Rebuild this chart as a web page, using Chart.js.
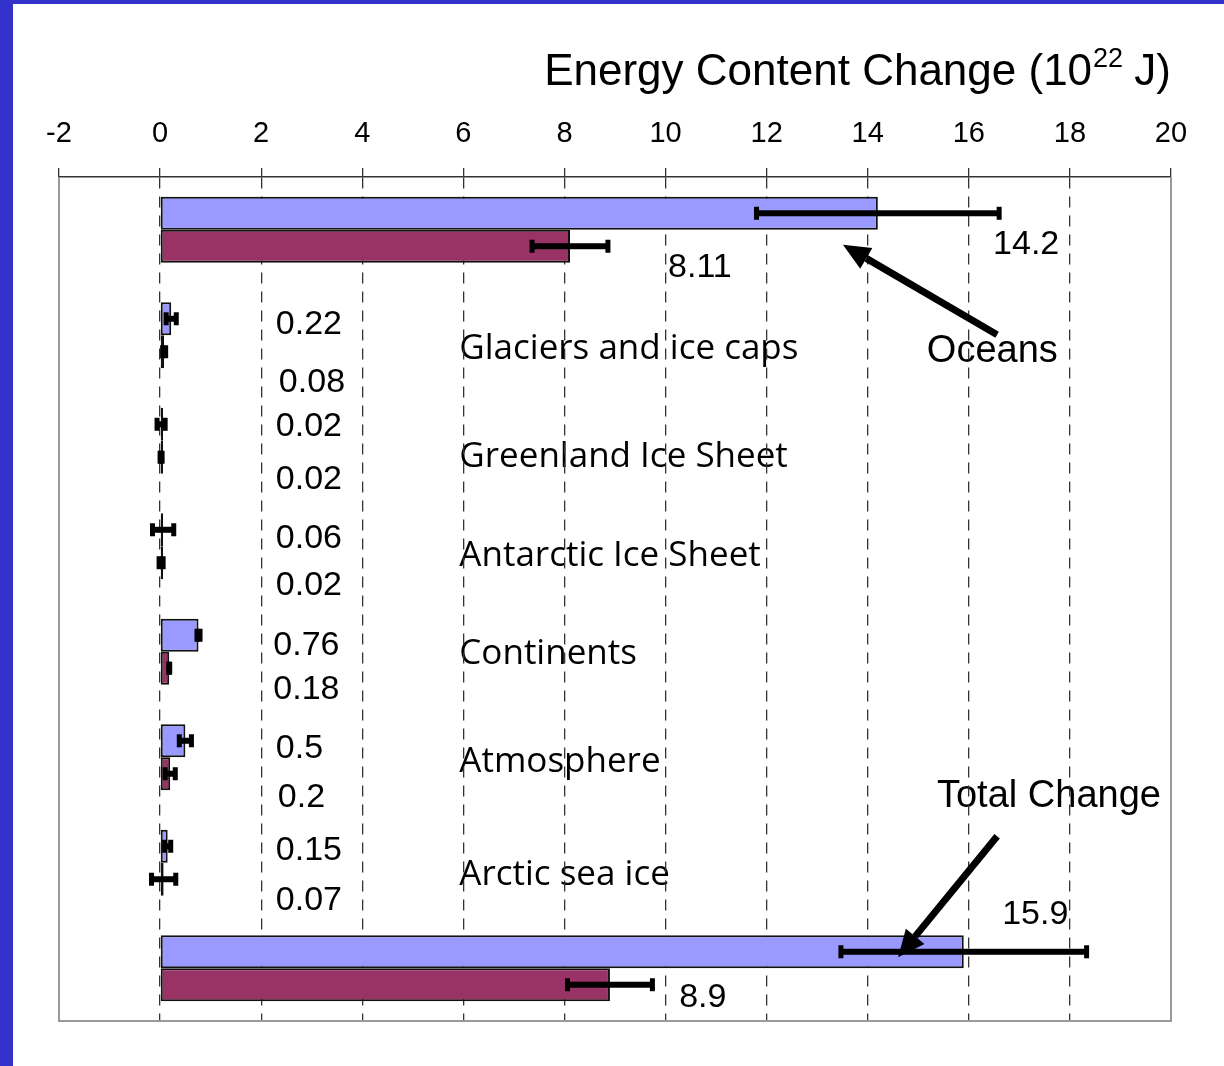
<!DOCTYPE html>
<html>
<head>
<meta charset="utf-8">
<script src="https://cdn.jsdelivr.net/npm/chart.js@4.4.1/dist/chart.umd.min.js"></script>
<style>
  html, body { margin: 0; padding: 0; background: #3333cc; }
  #wrap { position: absolute; left: 13px; top: 4px; width: 1211px; height: 1062px; background: #fff; }
  canvas { display: block; }
</style>
</head>
<body>
<div id="wrap"><canvas id="chart" width="1211" height="1062"></canvas></div>
<script>
// energy content change, 10^22 J
const categories = ["Oceans", "Glaciers and ice caps", "Greenland Ice Sheet", "Antarctic Ice Sheet",
                    "Continents", "Atmosphere", "Arctic sea ice", "Total Change"];
const period1 = [14.2, 0.22, 0.02, 0.06, 0.76, 0.5, 0.15, 15.9];
const period1Err = [2.4, 0.1, 0.08, 0.21, 0.03, 0.12, 0.06, 2.43];
const period2 = [8.11, 0.08, 0.02, 0.02, 0.18, 0.2, 0.07, 8.9];
const period2Err = [0.75, 0.03, 0.02, 0.04, 0.01, 0.1, 0.24, 0.84];
const xMin = -2, xMax = 20, xStep = 2;

// where the value / category texts sit: [x in data units, px offset from category centre]
const label1Pos = [[16.48, 15], [2.29, -11], [2.29, -14], [2.29, -8], [2.24, -6], [2.29, -9], [2.29, -12], [16.66, -54]];
const label2Pos = [[10.05, 38], [2.35, 47], [2.29, 39], [2.29, 39], [2.24, 38], [2.33, 40], [2.29, 38], [10.27, 29]];
const catPos = [[15.17, 122], [5.92, 14], [5.92, 16], [5.92, 10], [5.92, 2], [5.92, 5], [5.92, 12], [15.37, -172]];
const arrows = [[0, 16.56, 105, 13.51, 15], [7, 16.56, -132, 14.6, -11]];

const sans = "'Liberation Sans', Arial, sans-serif";

function xp(chart, v) { return chart.scales.x.getPixelForValue(v); }
function yp(chart, i, dy) { return chart.scales.y.getPixelForValue(i) + dy; }

function drawArrow(ctx, x1, y1, x2, y2) {
  const a = Math.atan2(y2 - y1, x2 - x1);
  const len = 27, w = 12;
  const bx = x2 - len * Math.cos(a), by = y2 - len * Math.sin(a);
  ctx.strokeStyle = '#000';
  ctx.fillStyle = '#000';
  ctx.lineWidth = 7;
  ctx.beginPath();
  ctx.moveTo(x1, y1);
  ctx.lineTo(bx, by);
  ctx.stroke();
  ctx.beginPath();
  ctx.moveTo(x2, y2);
  ctx.lineTo(bx + w * Math.sin(a), by - w * Math.cos(a));
  ctx.lineTo(bx - w * Math.sin(a), by + w * Math.cos(a));
  ctx.closePath();
  ctx.fill();
}

const textPlugin = {
  id: 'texts',
  beforeDraw(chart) {
    const ctx = chart.ctx, area = chart.chartArea;
    ctx.save();
    ctx.fillStyle = '#000';
    ctx.textBaseline = 'alphabetic';

    // axis title with superscript
    const main = 'Energy Content Change (10', sup = '22', tail = ' J)';
    ctx.font = '44px ' + sans;
    const wMain = ctx.measureText(main).width, wTail = ctx.measureText(tail).width;
    ctx.font = '27px ' + sans;
    const wSup = ctx.measureText(sup).width;
    let x = area.right - wMain - wSup - wTail;
    ctx.font = '44px ' + sans;
    ctx.fillText(main, x, 81);
    ctx.font = '27px ' + sans;
    ctx.fillText(sup, x + wMain + 1, 63);
    ctx.font = '44px ' + sans;
    ctx.fillText(tail, x + wMain + wSup, 81);

    // value labels
    ctx.textBaseline = 'middle';
    ctx.textAlign = 'left';
    ctx.font = '34px ' + sans;
    period1.forEach((v, i) => ctx.fillText(String(v), xp(chart, label1Pos[i][0]), yp(chart, i, label1Pos[i][1])));
    period2.forEach((v, i) => ctx.fillText(String(v), xp(chart, label2Pos[i][0]), yp(chart, i, label2Pos[i][1])));

    // category names
    categories.forEach((c, i) => {
      const edge = i === 0 || i === categories.length - 1;
      ctx.font = edge ? '38px ' + sans : "35px 'Open Sans', sans-serif";
      ctx.fillText(c, xp(chart, catPos[i][0]), yp(chart, i, catPos[i][1]));
    });
    ctx.restore();
  },
  afterDatasetsDraw(chart) {
    const ctx = chart.ctx, area = chart.chartArea;
    ctx.save();

    // error bars
    ctx.fillStyle = '#000';
    [[period1, period1Err], [period2, period2Err]].forEach(([vals, errs], d) => {
      chart.getDatasetMeta(d).data.forEach((bar, i) => {
        const x1 = xp(chart, vals[i] - errs[i]), x2 = xp(chart, vals[i] + errs[i]);
        ctx.fillRect(x1, bar.y - 3, x2 - x1, 6);
        ctx.fillRect(x1 - 2.5, bar.y - 6.5, 5, 13);
        ctx.fillRect(x2 - 2.5, bar.y - 6.5, 5, 13);
      });
    });

    // frame
    ctx.strokeStyle = '#999';
    ctx.lineWidth = 2;
    ctx.beginPath();
    ctx.moveTo(area.left, area.top);
    ctx.lineTo(area.left, area.bottom);
    ctx.lineTo(area.right, area.bottom);
    ctx.lineTo(area.right, area.top);
    ctx.stroke();

    // pointer arrows
    arrows.forEach(([i, x1, dy1, x2, dy2]) => {
      drawArrow(ctx, xp(chart, x1), yp(chart, i, dy1), xp(chart, x2), yp(chart, i, dy2));
    });
    ctx.restore();
  }
};

new Chart(document.getElementById('chart'), {
  type: 'bar',
  data: {
    labels: categories,
    datasets: [
      {
        label: '1961-2003',
        data: period1,
        backgroundColor: '#9999ff',
        borderColor: '#111',
        borderWidth: 2,
        borderSkipped: false,
        minBarLength: 3
      },
      {
        label: '1993-2003',
        data: period2,
        backgroundColor: '#993366',
        borderColor: '#111',
        borderWidth: 2,
        borderSkipped: false,
        minBarLength: 3
      }
    ]
  },
  options: {
    indexAxis: 'y',
    responsive: false,
    animation: false,
    categoryPercentage: 0.625,
    barPercentage: 1.0,
    layout: { padding: { left: 46, right: 53, top: 0, bottom: 45 } },
    plugins: {
      legend: { display: false },
      tooltip: { enabled: false }
    },
    scales: {
      x: {
        type: 'linear',
        position: 'top',
        min: xMin,
        max: xMax,
        ticks: {
          stepSize: xStep,
          padding: 17,
          color: '#000',
          font: { size: 29, family: sans }
        },
        grid: {
          color: c => (c.tick && (c.tick.value === xMin || c.tick.value === xMax)) ? 'rgba(0,0,0,0)' : '#333',
          lineWidth: 1.3,
          tickColor: '#333',
          tickLength: 9
        },
        border: { display: true, color: '#333', width: 1.5, dash: [11, 8] },
        afterFit: s => { s.height = 173; }
      },
      y: {
        type: 'category',
        display: false
      }
    }
  },
  plugins: [textPlugin]
});
</script>
</body>
</html>
